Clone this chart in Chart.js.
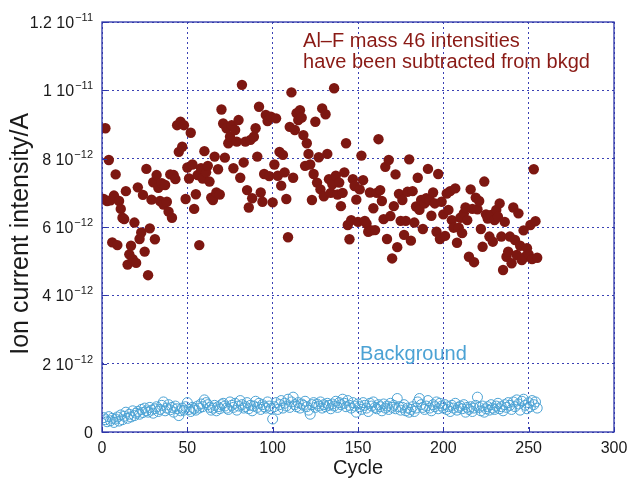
<!DOCTYPE html>
<html>
<head>
<meta charset="utf-8">
<script src="https://cdn.jsdelivr.net/npm/chart.js@4.4.1/dist/chart.umd.min.js"></script>
<style>
  html, body { margin: 0; padding: 0; background: #fff; }
</style>
</head>
<body>
<canvas id="grafica" width="630" height="480"></canvas>
<script>
// Corriente iónica Al–F (masa 46) por ciclo, en pA (1e-12 A), ya restado el fondo
const senal = [
  6.82, 8.89, 6.76, 7.96, 6.78, 5.55, 6.92, 7.54, 5.47, 6.76,
  6.53, 6.27, 6.23, 7.05, 4.90, 5.20, 5.45, 5.06, 6.13, 4.95,
  7.16, 5.65, 5.84, 6.94, 5.28, 7.70, 4.59, 5.96, 6.80, 7.31,
  5.64, 7.52, 7.15, 6.76, 7.28, 6.66, 7.23, 6.74, 6.45, 7.54,
  6.27, 7.52, 7.40, 8.98, 8.20, 9.08, 8.35, 8.98, 6.82, 7.74,
  7.42, 8.76, 7.83, 6.53, 6.96, 7.52, 5.47, 7.72, 7.42, 8.22,
  7.60, 7.79, 7.33, 6.86, 6.79, 8.06, 7.01, 7.69, 6.95, 9.44,
  9.03, 8.03, 8.89, 8.45, 8.64, 8.98, 7.72, 8.84, 8.50, 9.13,
  7.44, 10.16, 7.89, 8.50, 7.08, 6.57, 8.55, 6.84, 8.64, 8.89,
  8.06, 9.52, 7.01, 6.74, 7.55, 9.28, 9.10, 7.49, 9.23, 6.72,
  7.83, 9.18, 7.50, 8.20, 7.21, 8.11, 7.60, 6.82, 5.70, 8.93,
  9.94, 7.44, 8.84, 9.33, 9.13, 9.42, 9.20, 8.69, 7.79, 8.45,
  8.14, 7.83, 6.79, 7.55, 9.08, 7.30, 8.04, 7.10, 9.47, 6.90,
  9.30, 8.14, 7.40, 7.00, 7.25, 10.06, 7.50, 6.95, 7.30, 6.61,
  7.00, 7.60, 8.45, 6.06, 5.64, 6.20, 7.40, 7.20, 6.80, 6.15,
  7.10, 8.09, 7.37, 6.18, 6.10, 5.86, 7.01, 5.90, 6.55, 5.91,
  7.00, 8.57, 7.08, 6.76, 6.23, 7.76, 5.65, 7.96, 6.32, 5.08,
  6.61, 7.54, 5.41, 6.97, 6.18, 6.79, 5.77, 6.18, 7.03, 7.98,
  5.60, 7.05, 6.13, 6.60, 7.44, 6.50, 6.79, 5.94, 6.69, 6.84,
  7.70, 6.79, 6.33, 7.01, 6.69, 5.86, 7.55, 5.65, 6.74, 6.37,
  5.74, 6.98, 6.50, 7.05, 6.20, 5.98, 7.13, 5.54, 5.98, 6.27,
  5.82, 6.40, 6.57, 6.20, 5.13, 7.10, 6.53, 4.97, 6.86, 6.52,
  6.76, 5.94, 5.42, 7.33, 6.37, 6.25, 5.72, 6.35, 5.57, 6.20,
  6.50, 6.30, 6.69, 5.72, 4.74, 6.15, 5.13, 5.28, 5.72, 4.94,
  6.57, 5.62, 5.18, 6.40, 5.45, 5.03, 5.90, 5.13, 5.38, 5.20,
  6.06, 5.06, 7.69, 6.17, 5.10
];

// Fondo (background) por ciclo, en pA
const fondo = [
  0.42, 0.36, 0.30, 0.45, 0.33, 0.40, 0.28, 0.38, 0.44, 0.32,
  0.50, 0.36, 0.46, 0.58, 0.40, 0.52, 0.44, 0.62, 0.48, 0.55,
  0.60, 0.52, 0.66, 0.57, 0.70, 0.62, 0.58, 0.72, 0.64, 0.55,
  0.68, 0.74, 0.60, 0.66, 0.78, 0.88, 0.62, 0.70, 0.80, 0.65,
  0.72, 0.58, 0.76, 0.68, 0.48, 0.62, 0.70, 0.64, 0.74, 0.86,
  0.66, 0.60, 0.72, 0.68, 0.64, 0.76, 0.70, 0.82, 0.74, 0.94,
  0.86, 0.80, 0.72, 0.64, 0.70, 0.78, 0.62, 0.74, 0.68, 0.80,
  0.84, 0.76, 0.70, 0.66, 0.88, 0.78, 0.72, 0.84, 0.64, 0.76,
  0.92, 0.80, 0.70, 0.74, 0.86, 0.68, 0.78, 0.62, 0.76, 0.90,
  0.72, 0.84, 0.66, 0.80, 0.74, 0.70, 0.88, 0.76, 0.68, 0.38,
  0.74, 0.86, 0.66, 0.80, 0.92, 0.70, 0.84, 0.76, 0.96, 0.72,
  0.88, 1.02, 0.80, 0.74, 0.86, 0.70, 0.82, 0.78, 0.90, 0.74,
  0.64, 0.52, 0.80, 0.86, 0.72, 0.82, 0.76, 0.88, 0.70, 0.80,
  0.74, 0.84, 0.78, 0.68, 0.82, 0.76, 0.90, 0.72, 0.86, 0.80,
  0.96, 0.84, 0.74, 0.92, 0.78, 0.70, 0.86, 0.76, 0.58, 0.82,
  0.74, 0.66, 0.86, 0.78, 0.70, 0.60, 0.84, 0.76, 0.88, 0.72,
  0.68, 0.80, 0.74, 0.62, 0.82, 0.70, 0.76, 0.66, 0.84, 0.72,
  0.78, 0.68, 0.98, 0.74, 0.64, 0.72, 0.80, 0.62, 0.70, 0.58,
  0.66, 0.74, 0.60, 0.70, 0.88, 0.98, 0.80, 0.72, 0.66, 0.76,
  0.92, 0.70, 0.62, 0.80, 0.74, 0.88, 0.68, 0.84, 0.76, 0.70,
  0.80, 0.66, 0.74, 0.60, 0.78, 0.70, 0.84, 0.64, 0.72, 0.76,
  0.68, 0.80, 0.58, 0.72, 0.66, 0.74, 0.60, 0.70, 0.78, 1.02,
  0.72, 0.62, 0.76, 0.58, 0.68, 0.74, 0.64, 0.80, 0.70, 0.66,
  0.76, 0.84, 0.68, 0.74, 0.62, 0.80, 0.72, 0.86, 0.78, 0.66,
  0.88, 0.74, 0.94, 0.82, 0.64, 0.90, 0.96, 0.78, 0.68, 0.86,
  0.74, 0.92, 0.80, 0.88, 0.70
];

const ticksX = [0, 50, 100, 150, 200, 250, 300];
const ticksY = [0, 2, 4, 6, 8, 10, 12]; // pA

const FUENTE = '"Liberation Sans", Arial, Helvetica, sans-serif';
const ROJO = '#7d1711';
const AZUL = '#4ba2d4';
const GRILLA = '#3b42b4';

const puntosSenal = senal.map((v, i) => ({ x: i + 1, y: v }));
const puntosFondo = fondo.map((v, i) => ({ x: i + 1, y: v }));

// Etiquetas del eje Y con potencia de diez (mantisa + exponente elevado) y título vertical
const etiquetasY = {
  id: 'etiquetasY',
  afterDraw(chart) {
    const { ctx, chartArea, scales: { y } } = chart;
    const derecha = chartArea.left - 9;
    ctx.save();
    ctx.fillStyle = '#1a1a1a';
    ctx.textAlign = 'right';
    ctx.textBaseline = 'alphabetic';
    ticksY.forEach(v => {
      const base = y.getPixelForValue(v) + 6;
      if (v === 0) {
        ctx.font = '16px ' + FUENTE;
        ctx.fillText('0', derecha, base);
        return;
      }
      const exp = v >= 10 ? -11 : -12;
      const mant = +(v / Math.pow(10, exp + 12)).toFixed(1);
      const sup = '\u2212' + Math.abs(exp);
      ctx.font = '11px ' + FUENTE;
      const anchoSup = ctx.measureText(sup).width;
      ctx.fillText(sup, derecha, base - 7);
      ctx.font = '16px ' + FUENTE;
      ctx.fillText(mant + ' 10', derecha - anchoSup - 1, base);
    });

    // título del eje, un poco por debajo del centro del área
    ctx.translate(21, y.getPixelForValue(5.8));
    ctx.rotate(-Math.PI / 2);
    ctx.textAlign = 'center';
    ctx.textBaseline = 'middle';
    ctx.font = '25px ' + FUENTE;
    ctx.fillText('Ion current intensity/A', 0, 0);
    ctx.restore();
  }
};

// Marco del área de datos y marcas cortas hacia adentro
const marco = {
  id: 'marco',
  afterDatasetsDraw(chart) {
    const { ctx, chartArea: a, scales: { x, y } } = chart;
    ctx.save();
    ctx.strokeStyle = '#2c34a8';
    ctx.lineWidth = 1.3;
    ctx.strokeRect(a.left, a.top, a.right - a.left, a.bottom - a.top);
    ctx.lineWidth = 1;
    ctx.beginPath();
    ticksX.forEach(v => {
      const px = Math.round(x.getPixelForValue(v)) + 0.5;
      ctx.moveTo(px, a.bottom); ctx.lineTo(px, a.bottom - 5);
    });
    ticksY.forEach(v => {
      const py = Math.round(y.getPixelForValue(v)) + 0.5;
      ctx.moveTo(a.left, py); ctx.lineTo(a.left + 5, py);
    });
    ctx.stroke();
    ctx.restore();
  }
};

// Textos dentro del gráfico
const anotaciones = {
  id: 'anotaciones',
  afterDraw(chart) {
    const { ctx, scales: { x, y } } = chart;
    ctx.save();
    ctx.font = '20px ' + FUENTE;
    ctx.textAlign = 'left';
    ctx.textBaseline = 'alphabetic';
    ctx.fillStyle = '#8a1a15';
    ctx.fillText('Al\u2013F mass 46 intensities', x.getPixelForValue(117.8), y.getPixelForValue(11.28));
    ctx.fillText('have been subtracted from bkgd', x.getPixelForValue(117.8), y.getPixelForValue(10.64));
    ctx.fillStyle = AZUL;
    ctx.fillText('Background', x.getPixelForValue(151.2), y.getPixelForValue(2.1));
    ctx.restore();
  }
};

new Chart(document.getElementById('grafica'), {
  type: 'scatter',
  data: {
    datasets: [
      {
        label: 'Background',
        data: puntosFondo,
        pointRadius: 5,
        pointBorderWidth: 1,
        pointBorderColor: AZUL,
        pointBackgroundColor: 'rgba(0,0,0,0)'
      },
      {
        label: 'Al–F mass 46',
        data: puntosSenal,
        pointRadius: 5.2,
        pointBorderWidth: 0,
        pointBackgroundColor: ROJO,
        pointBorderColor: ROJO
      }
    ]
  },
  options: {
    responsive: false,
    animation: false,
    layout: { padding: { top: 22, right: 16, left: 0, bottom: 0 } },
    plugins: {
      legend: { display: false },
      tooltip: { enabled: false }
    },
    scales: {
      x: {
        type: 'linear',
        min: 0,
        max: 300,
        afterBuildTicks: s => { s.ticks = ticksX.map(v => ({ value: v })); },
        afterFit: s => { s.height = 48; s.paddingLeft = 0; s.paddingRight = 0; },
        grid: { color: GRILLA, lineWidth: 1, drawTicks: false },
        border: { display: false, dash: [2, 3] },
        ticks: { color: '#1a1a1a', font: { family: FUENTE, size: 16 }, padding: 7, maxRotation: 0 },
        title: {
          display: true,
          text: 'Cycle',
          color: '#1a1a1a',
          font: { family: FUENTE, size: 20 },
          padding: { top: 0, bottom: 0 }
        }
      },
      y: {
        type: 'linear',
        min: 0,
        max: 12,
        afterBuildTicks: s => { s.ticks = ticksY.map(v => ({ value: v })); },
        afterFit: s => { s.width = 102; s.paddingTop = 0; s.paddingBottom = 0; },
        grid: { color: GRILLA, lineWidth: 1, drawTicks: false },
        border: { display: false, dash: [2, 3] },
        ticks: { display: false },
        title: { display: false }
      }
    }
  },
  plugins: [marco, etiquetasY, anotaciones]
});
</script>
</body>
</html>
